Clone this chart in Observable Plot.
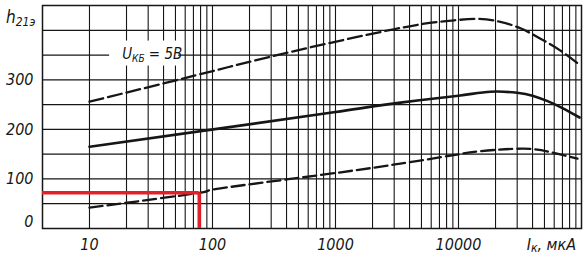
<!DOCTYPE html>
<html><head><meta charset="utf-8">
<script src="https://cdn.jsdelivr.net/npm/d3@7"></script>
<script src="https://cdn.jsdelivr.net/npm/@observablehq/plot@0.6"></script>
<style>
body{margin:0;background:#fff;}
svg{display:block}
</style></head><body><div id="chart"></div>
<script>
// Collector current I_K, µA, and h21э readings for the three curves
const topI = [10, 73, 378, 2970, 7550, 14300, 21900, 31900, 46400, 67500, 98000];
const topH = [256, 309, 353, 402, 418, 423, 417, 404, 383, 359, 329];
const midI = [10, 116, 1000, 3370, 10000, 18200, 30000, 40000, 53000, 70000, 96400];
const midH = [165, 202, 235, 254, 268, 276, 274, 268, 257, 243, 224];
const botI = [10, 78, 116, 1000, 3370, 8610, 15100, 33700, 56000, 92700];
const botH = [42, 72, 81, 112, 131, 147, 156, 161, 154, 141];
// Red read-off point
const redI = 78;
const redH = 72;
// Axes
const xDomain = [4.15, 100000];
const yDomain = [0, 450];
const xTicks = [10, 100, 1000, 10000];
const yTicks = [100, 200, 300];
const yZero = [0];
const gridY = d3.range(0, 451, 50);
const gridX = [10, 100, 1000, 10000].flatMap(d => d3.range(1, 10).map(k => k * d)).filter(v => v < 100000);
// Annotation
const note = {I: 18.6, h: 352, main: "U", sub: "КБ", rest: " = 5В"};

const toRows = (I, H) => I.map((v, i) => ({I: v, h: H[i]}));
const topData = toRows(topI, topH);
const midData = toRows(midI, midH);
const botData = toRows(botI, botH);

const font = "'Liberation Sans Narrow','Arial Narrow','DejaVu Sans Condensed',sans-serif";
const ink = "#161616";

const plot = Plot.plot({
  width: 586, height: 259,
  marginLeft: 42, marginRight: 5, marginTop: 5, marginBottom: 31,
  style: {fontFamily: font, fontStyle: "italic", fontSize: "16px", background: "#fff", color: ink},
  x: {type: "log", domain: xDomain, label: null},
  y: {domain: yDomain, label: null},
  marks: [
    Plot.ruleX(gridX, {stroke: ink, strokeWidth: 1.1}),
    Plot.ruleY(gridY, {stroke: ink, strokeWidth: 1.2}),
    Plot.frame({stroke: ink, strokeWidth: 1.5}),
    Plot.axisX(xTicks, {tickSize: 0, tickPadding: 10, tickFormat: d => String(d), fontSize: 16, label: null}),
    Plot.axisY(yTicks, {tickSize: 0, tickPadding: 9, tickFormat: d => String(d), fontSize: 16, label: null}),
    Plot.axisY(yZero, {tickSize: 0, tickPadding: 9, tickFormat: d => String(d), fontSize: 16, dy: -7, label: null}),
    Plot.line(topData, {x: "I", y: "h", curve: "natural", stroke: ink, strokeWidth: 2.3, strokeDasharray: "14,5"}),
    Plot.line(midData, {x: "I", y: "h", curve: "natural", stroke: ink, strokeWidth: 2.6}),
    Plot.line(botData, {x: "I", y: "h", curve: "natural", stroke: ink, strokeWidth: 2.3, strokeDasharray: "13,5"}),
    Plot.ruleY([redH], {x1: xDomain[0], x2: redI, stroke: "#e3202a", strokeWidth: 3.4}),
    Plot.ruleX([redI], {y1: 0, y2: redH, stroke: "#e3202a", strokeWidth: 3.4})
  ]
});

document.getElementById("chart").appendChild(plot);

const sx = plot.scale("x"), sy = plot.scale("y");
const svg = d3.select(plot);

// Annotation with white background
const nx = sx.apply(note.I), ny = sy.apply(note.h);
svg.append("rect").attr("x", nx - 13).attr("y", ny - 13).attr("width", 69).attr("height", 25).attr("fill", "#fff");
const nt = svg.append("text").attr("x", nx).attr("y", ny + 5).attr("text-anchor", "start")
  .attr("font-family", font).attr("font-style", "italic").attr("font-size", 15).attr("fill", ink);
nt.append("tspan").text(note.main);
nt.append("tspan").attr("dy", 3).attr("font-size", 10).text(note.sub);
nt.append("tspan").attr("dy", -3).text(note.rest);

// y label h21э
const hy = sy.apply(400) - 7;
const ht = svg.append("text").attr("x", 6).attr("y", hy).attr("text-anchor", "start")
  .attr("font-family", font).attr("font-style", "italic").attr("font-size", 17).attr("fill", ink);
ht.append("tspan").text("h");
ht.append("tspan").attr("dy", 3).attr("font-size", 12).text("21э");

// x label Iк, мкА
const xt = svg.append("text").attr("x", 576).attr("y", 250).attr("text-anchor", "end")
  .attr("font-family", font).attr("font-style", "italic").attr("font-size", 16).attr("fill", ink);
xt.append("tspan").text("I");
xt.append("tspan").attr("dy", 2).attr("font-size", 12).text("к");
xt.append("tspan").attr("dy", -2).text(", мкА");
</script>
</body></html>
